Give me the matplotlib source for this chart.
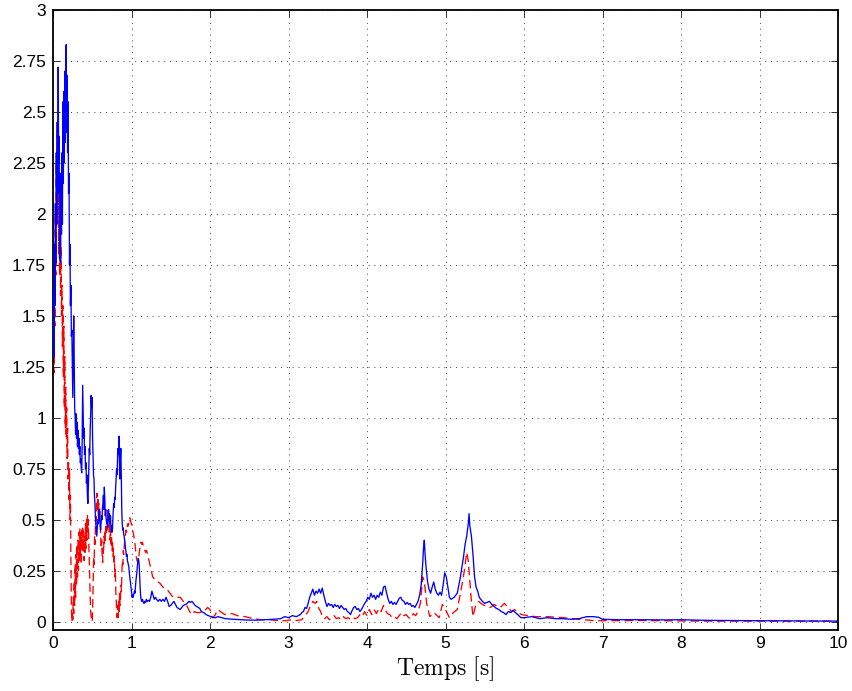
import matplotlib
matplotlib.use("Agg")
import matplotlib.pyplot as plt

# ---------------- data ----------------
blue_pts = [
    (0.000,1.40),(0.006,1.62),(0.012,1.30),(0.018,1.85),(0.024,1.55),(0.030,2.05),(0.036,1.76),
    (0.042,2.30),(0.048,1.95),(0.054,2.45),(0.060,2.10),(0.066,2.72),(0.072,2.25),(0.078,2.38),
    (0.084,1.78),(0.090,2.20),(0.096,1.76),(0.102,2.15),(0.108,1.90),(0.114,2.30),(0.120,1.95),
    (0.126,2.55),(0.132,2.15),(0.138,2.60),(0.144,2.25),(0.150,2.70),(0.156,2.35),(0.162,2.62),
    (0.168,2.83),(0.174,2.40),(0.180,2.68),(0.186,2.30),(0.192,2.55),(0.198,2.10),(0.204,2.20),
    (0.210,1.75),(0.216,1.85),(0.222,1.55),(0.228,1.65),(0.234,1.40),
    (0.240,1.43),(0.246,1.25),(0.252,1.10),(0.258,1.30),(0.264,1.50),(0.270,1.30),(0.276,1.05),
    (0.282,1.00),(0.288,0.92),(0.294,1.02),(0.300,0.90),(0.306,0.98),(0.312,0.86),(0.318,0.94),
    (0.324,0.85),(0.330,0.90),(0.336,0.82),(0.342,0.86),(0.348,0.78),(0.354,0.80),(0.360,0.75),
    (0.366,0.73),(0.372,0.90),(0.378,1.16),(0.384,1.02),(0.390,0.90),(0.396,0.95),(0.402,0.82),
    (0.408,0.86),(0.414,0.75),(0.420,0.78),(0.426,0.68),(0.432,0.72),(0.438,0.62),(0.444,0.58),
    (0.450,0.65),(0.456,0.75),(0.462,0.85),(0.468,0.82),(0.474,0.95),(0.480,1.02),(0.486,1.11),
    (0.492,1.05),(0.498,1.10),(0.504,0.90),(0.510,0.82),(0.516,0.72),(0.522,0.70),(0.528,0.62),
    (0.534,0.58),(0.540,0.52),(0.546,0.48),(0.552,0.45),(0.558,0.42),(0.564,0.46),(0.570,0.50),
    (0.576,0.48),(0.582,0.53),(0.588,0.55),(0.594,0.50),(0.600,0.48),(0.606,0.45),(0.612,0.48),
    (0.618,0.52),(0.624,0.50),(0.630,0.56),(0.636,0.58),(0.642,0.62),(0.648,0.55),(0.654,0.66),
    (0.660,0.60),(0.666,0.52),(0.672,0.55),(0.678,0.50),(0.684,0.48),(0.690,0.50),(0.696,0.46),
    (0.702,0.52),(0.708,0.55),(0.714,0.50),(0.720,0.53),(0.726,0.48),(0.732,0.52),(0.738,0.46),
    (0.744,0.44),(0.750,0.47),(0.756,0.44),(0.762,0.50),(0.768,0.55),(0.774,0.58),(0.780,0.56),
    (0.786,0.61),(0.792,0.60),(0.798,0.66),(0.804,0.70),(0.810,0.75),(0.816,0.72),(0.822,0.80),
    (0.828,0.85),(0.834,0.82),(0.840,0.91),(0.846,0.78),(0.852,0.70),(0.858,0.80),(0.864,0.85),
    (0.870,0.72),(0.876,0.55),(0.882,0.48),(0.888,0.45),(0.894,0.46),(0.900,0.43),(0.906,0.42),
    (0.912,0.40),(0.918,0.38),(0.924,0.36),(0.930,0.34),(0.936,0.32),(0.942,0.33),(0.948,0.30),
    (0.954,0.29),(0.960,0.28),(0.966,0.27),(0.972,0.24),(0.978,0.22),(0.984,0.20),(0.990,0.18),
    (0.996,0.16),(1.002,0.14),(1.008,0.12),(1.014,0.13),(1.020,0.12),(1.026,0.13),(1.032,0.14),
    (1.038,0.15),(1.044,0.14),(1.050,0.17),(1.056,0.20),(1.062,0.22),(1.068,0.24),(1.074,0.27),
    (1.080,0.29),(1.086,0.31),(1.092,0.30),(1.098,0.28),(1.104,0.22),(1.110,0.17),(1.116,0.13),
    (1.122,0.11),(1.130,0.10),(1.140,0.11),(1.150,0.095),(1.160,0.09),(1.170,0.10),(1.180,0.095),
    (1.190,0.11),(1.200,0.10),(1.215,0.105),(1.230,0.10),(1.245,0.12),(1.260,0.15),(1.275,0.13),
    (1.290,0.11),(1.305,0.12),(1.320,0.11),(1.340,0.10),(1.360,0.11),(1.380,0.10),(1.400,0.11),
    (1.420,0.10),(1.440,0.12),(1.460,0.10),(1.480,0.075),(1.500,0.08),(1.520,0.09),(1.540,0.10),
    (1.560,0.085),(1.580,0.07),(1.600,0.065),(1.620,0.06),(1.640,0.07),(1.660,0.08),(1.690,0.085),
    (1.710,0.09),(1.730,0.10),(1.750,0.095),(1.770,0.10),(1.790,0.09),(1.810,0.08),(1.830,0.075),
    (1.850,0.07),(1.870,0.065),(1.890,0.05),(1.920,0.045),(1.950,0.035),(1.980,0.03),(2.010,0.025),
    (2.040,0.02),(2.070,0.02),
    (2.10,0.025),(2.20,0.015),(2.30,0.012),(2.40,0.01),(2.50,0.008),(2.60,0.008),(2.70,0.01),
    (2.80,0.012),(2.90,0.015),(2.95,0.025),(3.00,0.02),(3.05,0.03),(3.10,0.025),
    (3.15,0.035),(3.17,0.045),(3.19,0.05),(3.21,0.07),(3.23,0.065),(3.25,0.09),(3.27,0.12),
    (3.29,0.14),(3.31,0.16),(3.33,0.13),(3.35,0.15),(3.37,0.14),(3.39,0.16),(3.41,0.14),
    (3.43,0.165),(3.45,0.13),(3.47,0.10),(3.49,0.075),(3.51,0.09),(3.53,0.08),(3.55,0.085),
    (3.57,0.07),(3.59,0.085),(3.61,0.075),(3.63,0.08),(3.65,0.065),(3.67,0.08),(3.69,0.07),
    (3.71,0.06),(3.73,0.065),(3.75,0.05),(3.77,0.045),(3.79,0.035),(3.81,0.055),(3.83,0.07),
    (3.85,0.075),(3.87,0.06),(3.89,0.065),(3.91,0.05),(3.93,0.06),(3.95,0.075),(3.97,0.09),
    (3.99,0.10),(4.01,0.12),(4.03,0.11),(4.05,0.14),(4.07,0.12),(4.09,0.13),(4.11,0.11),
    (4.13,0.13),(4.15,0.12),(4.17,0.145),(4.19,0.13),(4.21,0.17),(4.23,0.175),(4.25,0.14),
    (4.27,0.11),(4.29,0.09),(4.31,0.10),(4.33,0.085),(4.35,0.095),(4.37,0.085),(4.39,0.10),
    (4.41,0.115),(4.43,0.12),(4.45,0.105),(4.47,0.10),(4.49,0.085),(4.51,0.095),(4.53,0.085),
    (4.55,0.09),(4.57,0.075),(4.59,0.08),(4.61,0.07),(4.63,0.085),(4.65,0.10),(4.67,0.13),
    (4.69,0.18),(4.71,0.29),(4.72,0.36),(4.73,0.40),(4.74,0.33),(4.75,0.28),(4.77,0.20),
    (4.79,0.16),(4.81,0.14),(4.83,0.17),(4.85,0.195),(4.87,0.16),(4.89,0.14),(4.91,0.13),
    (4.93,0.145),(4.95,0.13),(4.97,0.18),(4.99,0.24),(5.01,0.22),(5.03,0.17),(5.05,0.12),
    (5.07,0.11),(5.09,0.115),(5.11,0.12),(5.13,0.13),(5.15,0.14),(5.17,0.18),(5.19,0.22),
    (5.21,0.27),(5.23,0.32),(5.25,0.38),(5.27,0.42),(5.29,0.48),(5.30,0.53),(5.31,0.47),
    (5.33,0.42),(5.35,0.33),(5.37,0.22),(5.39,0.17),(5.41,0.15),(5.43,0.12),(5.45,0.11),
    (5.47,0.10),(5.50,0.09),(5.53,0.095),(5.56,0.10),(5.59,0.085),(5.62,0.075),(5.65,0.065),
    (5.68,0.06),(5.71,0.05),(5.74,0.045),(5.77,0.035),(5.80,0.05),(5.83,0.045),(5.86,0.055),
    (5.89,0.045),(5.92,0.035),(5.96,0.02),(6.00,0.02),(6.10,0.025),
    (6.20,0.015),(6.30,0.02),(6.40,0.015),(6.50,0.015),(6.60,0.012),(6.70,0.015),(6.80,0.025),
    (6.88,0.025),(6.95,0.022),(7.00,0.012),(7.20,0.01),(7.50,0.01),(7.80,0.009),(8.00,0.01),
    (8.30,0.007),(8.60,0.006),(9.00,0.005),(9.50,0.004),(10.00,0.003),
]

red_pts = [
    (0.000,1.30),(0.006,1.50),(0.012,1.22),(0.018,1.75),(0.024,1.45),(0.030,2.00),(0.036,1.70),
    (0.042,2.25),(0.048,1.95),(0.054,2.41),(0.060,2.05),(0.066,2.20),(0.072,1.80),(0.078,2.05),
    (0.084,1.70),(0.090,1.95),(0.096,1.60),(0.102,1.84),(0.108,1.50),(0.114,1.65),(0.120,1.35),
    (0.126,1.55),(0.132,1.20),(0.138,1.45),(0.144,1.05),(0.150,1.30),(0.156,0.95),(0.162,1.15),
    (0.168,0.90),(0.174,1.05),(0.180,0.80),(0.186,0.95),(0.192,0.70),(0.198,0.78),(0.204,0.60),
    (0.210,0.75),(0.216,0.50),(0.222,0.62),(0.228,0.30),(0.234,0.08),(0.240,0.00),(0.246,0.05),
    (0.252,0.01),(0.258,0.12),(0.264,0.04),(0.270,0.20),(0.276,0.08),(0.282,0.28),(0.288,0.12),
    (0.294,0.33),(0.300,0.18),(0.306,0.38),(0.312,0.22),(0.318,0.40),(0.324,0.25),(0.330,0.44),
    (0.336,0.30),(0.342,0.46),(0.348,0.32),(0.354,0.42),(0.360,0.28),(0.366,0.45),(0.372,0.35),
    (0.378,0.47),(0.384,0.38),(0.390,0.44),(0.396,0.30),(0.402,0.42),(0.408,0.34),(0.414,0.48),
    (0.420,0.36),(0.426,0.50),(0.432,0.40),(0.438,0.52),(0.444,0.44),(0.450,0.50),(0.456,0.38),
    (0.462,0.30),(0.468,0.20),(0.474,0.12),(0.480,0.05),(0.490,0.01),(0.500,0.00),(0.506,0.08),
    (0.512,0.20),(0.518,0.32),(0.524,0.28),(0.530,0.42),(0.536,0.38),(0.542,0.52),(0.548,0.48),
    (0.554,0.60),(0.560,0.63),(0.566,0.55),(0.572,0.60),(0.578,0.52),(0.584,0.58),(0.590,0.50),
    (0.596,0.56),(0.602,0.48),(0.608,0.42),(0.614,0.36),(0.620,0.40),(0.626,0.32),(0.632,0.29),
    (0.638,0.36),(0.644,0.33),(0.650,0.42),(0.656,0.38),(0.662,0.45),(0.668,0.40),(0.674,0.48),
    (0.680,0.44),(0.686,0.50),(0.692,0.45),(0.698,0.55),(0.704,0.48),(0.710,0.52),(0.716,0.44),
    (0.722,0.48),(0.728,0.40),(0.734,0.45),(0.740,0.38),(0.746,0.42),(0.752,0.35),(0.758,0.40),
    (0.764,0.32),(0.770,0.36),(0.776,0.28),(0.782,0.32),(0.788,0.22),(0.794,0.26),(0.800,0.15),
    (0.806,0.10),(0.812,0.05),(0.818,0.02),(0.824,0.08),(0.830,0.02),(0.836,0.10),(0.842,0.05),
    (0.848,0.14),(0.854,0.08),(0.860,0.12),(0.866,0.18),(0.872,0.15),(0.878,0.25),(0.884,0.30),
    (0.890,0.28),(0.896,0.35),(0.902,0.33),(0.910,0.38),(0.920,0.42),(0.930,0.45),(0.940,0.44),
    (0.950,0.48),(0.960,0.47),(0.970,0.50),(0.980,0.51),(0.990,0.49),(1.000,0.48),(1.010,0.45),
    (1.020,0.44),(1.030,0.42),(1.040,0.40),(1.050,0.36),(1.060,0.32),(1.070,0.30),(1.080,0.29),
    (1.090,0.31),(1.100,0.34),(1.110,0.37),(1.120,0.39),(1.130,0.38),(1.140,0.39),(1.150,0.37),
    (1.160,0.36),(1.170,0.35),(1.180,0.34),(1.190,0.35),(1.200,0.34),
    (1.24,0.27),(1.27,0.22),(1.31,0.20),(1.36,0.19),(1.40,0.17),(1.45,0.16),(1.49,0.14),
    (1.53,0.12),(1.58,0.12),(1.62,0.12),(1.66,0.10),(1.71,0.075),(1.74,0.05),(1.77,0.035),
    (1.80,0.05),(1.83,0.045),(1.87,0.045),(1.92,0.05),(1.97,0.07),(2.00,0.06),(2.03,0.02),
    (2.06,0.03),(2.10,0.06),(2.15,0.045),(2.19,0.035),(2.24,0.04),(2.28,0.04),(2.35,0.03),
    (2.45,0.025),(2.55,0.015),(2.65,0.01),(2.75,0.01),(2.85,0.006),(2.96,0.005),(3.05,0.01),
    (3.10,0.006),(3.17,0.01),(3.21,0.03),(3.25,0.05),(3.28,0.08),(3.31,0.10),(3.34,0.09),
    (3.36,0.10),(3.38,0.07),(3.41,0.05),
    (3.43,0.025),(3.46,0.015),(3.49,0.025),(3.52,0.01),(3.55,0.02),(3.58,0.03),(3.61,0.015),
    (3.64,0.02),(3.67,0.01),(3.70,0.025),(3.73,0.015),(3.76,0.02),(3.79,0.01),(3.82,0.02),
    (3.85,0.015),(3.88,0.02),(3.91,0.035),(3.94,0.025),(3.97,0.05),(4.00,0.03),(4.03,0.06),
    (4.06,0.035),(4.09,0.06),(4.12,0.04),(4.15,0.065),(4.18,0.05),(4.21,0.08),(4.23,0.06),
    (4.26,0.04),(4.29,0.035),(4.32,0.02),(4.35,0.025),(4.38,0.015),(4.41,0.03),(4.44,0.045),
    (4.47,0.03),(4.50,0.035),(4.53,0.02),(4.56,0.015),(4.59,0.04),(4.62,0.03),(4.65,0.05),
    (4.68,0.09),(4.71,0.22),(4.73,0.20),(4.76,0.09),(4.80,0.025),
    (4.85,0.045),(4.88,0.035),(4.92,0.02),(4.96,0.085),(5.00,0.06),(5.05,0.02),(5.10,0.045),
    (5.15,0.06),(5.20,0.16),(5.24,0.25),(5.27,0.34),(5.29,0.30),(5.31,0.20),(5.33,0.10),
    (5.35,0.025),(5.38,0.075),(5.42,0.10),(5.47,0.085),(5.52,0.075),(5.57,0.07),(5.62,0.085),
    (5.66,0.075),(5.70,0.07),(5.75,0.09),(5.80,0.07),(5.84,0.05),(5.88,0.06),(5.92,0.045),
    (5.97,0.035),(6.05,0.03),(6.15,0.025),(6.30,0.025),(6.50,0.02),(6.70,0.012),(6.88,0.006),
    (7.00,0.005),(7.50,0.006),(8.00,0.004),(8.50,0.003),(9.00,0.003),(10.00,0.003),
]

x_ticks = list(range(0, 11))
y_ticks = [0, 0.25, 0.5, 0.75, 1, 1.25, 1.5, 1.75, 2, 2.25, 2.5, 2.75, 3]
y_tick_labels = ['0', '0.25', '0.5', '0.75', '1', '1.25', '1.5', '1.75', '2',
                 '2.25', '2.5', '2.75', '3']
x_label = r'$\mathrm{Temps\ [s]}$'

# ---------------- plot ----------------
plt.rcParams['font.family'] = ['Liberation Sans', 'DejaVu Sans']
plt.rcParams['mathtext.fontset'] = 'cm'

fig = plt.figure(figsize=(8.53, 6.91), dpi=100)
ax = fig.add_axes([53/853, 1 - 629.5/691, (838-53)/853, (629.5-10)/691])

bt = [p[0] for p in blue_pts]
bv = [p[1] for p in blue_pts]
rt = [p[0] for p in red_pts]
rv = [p[1] for p in red_pts]

ax.plot(bt, bv, color='#0000ff', lw=0.95, zorder=3)
ax.plot(rt, rv, color='#ff0000', lw=0.95, linestyle=(0, (6.5, 3.5)), zorder=2)

ax.set_xlim(0, 10)
ax.set_ylim(-0.038, 3)
ax.set_xticks(x_ticks)
ax.set_xticklabels([str(v) for v in x_ticks])
ax.set_yticks(y_ticks)
ax.set_yticklabels(y_tick_labels)

ax.grid(True, linestyle=(0, (1, 5)), color='0.25', lw=0.7)
ax.tick_params(direction='in', top=True, right=True, length=5, width=0.7,
               labelsize=12.5, pad=5, colors='0.2', labelcolor='black')
for s in ax.spines.values():
    s.set_linewidth(1.3)
    s.set_color('black')

ax.set_xlabel(x_label, fontsize=17, labelpad=2)

fig.savefig('out.png', dpi=100)
